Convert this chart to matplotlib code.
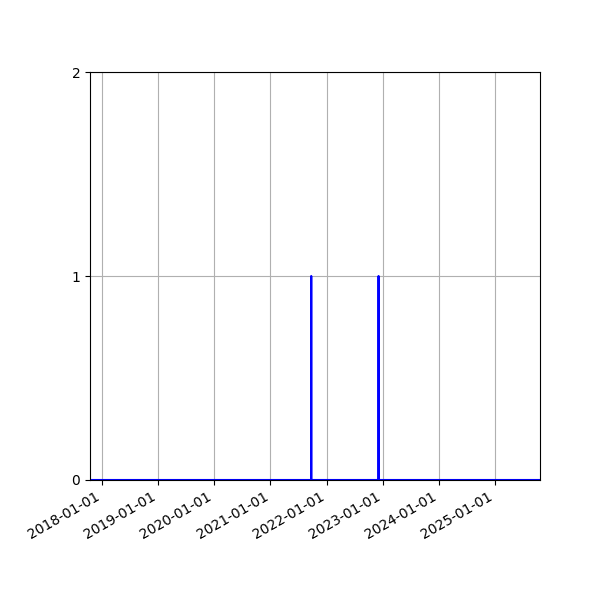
import pandas as pd
import matplotlib
matplotlib.use('Agg')
import matplotlib.pyplot as plt
import matplotlib.dates as mdates

# daily event counts, only two days with one event
start_date = '2017-10-15'
end_date = '2025-10-20'
event_dates = ['2021-09-23', '2022-12-05']

days = pd.date_range(start_date, end_date, freq='D')
counts = pd.Series(0, index=days)
for d in event_dates:
    counts[pd.Timestamp(d)] += 1

fig, ax = plt.subplots(figsize=(6, 6), dpi=100)
ax.plot(counts.index, counts.values, color='blue')

ax.set_xlim(days[0], days[-1])
ax.set_ylim(0, 2)
ax.set_yticks([0, 1, 2])
ax.xaxis.set_major_locator(mdates.YearLocator())
ax.xaxis.set_major_formatter(mdates.DateFormatter('%Y-%m-%d'))
ax.grid(True)

fig.autofmt_xdate()
fig.subplots_adjust(left=0.15, right=0.9, top=0.88, bottom=0.2)

plt.savefig('out.png')
